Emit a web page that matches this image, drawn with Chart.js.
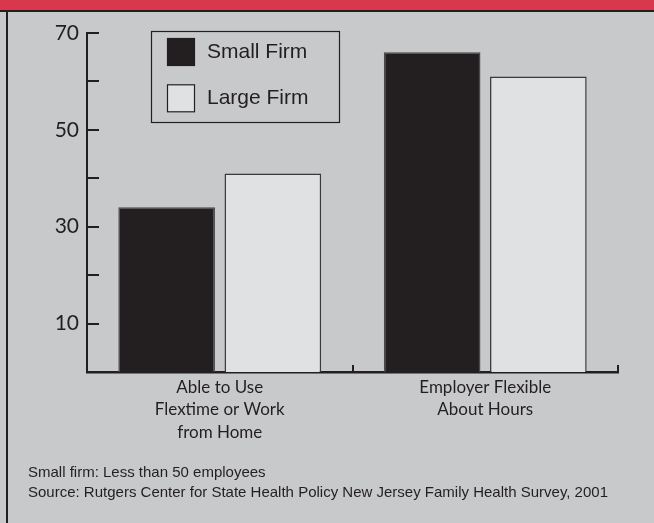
<!DOCTYPE html>
<html>
<head>
<meta charset="utf-8">
<title>Flexible hours by firm size</title>
<script src="https://cdn.jsdelivr.net/npm/chart.js@4.4.1/dist/chart.umd.min.js"></script>
<style>
  html, body { margin: 0; padding: 0; }
  body { width: 654px; height: 523px; background: #c8c9cb; position: relative; overflow: hidden; }
  .topband { position: absolute; left: 0; top: 0; width: 654px; height: 10px; background: #d9384c; border-bottom: 2px solid #231f20; }
  .leftrule { position: absolute; left: 6px; top: 10px; width: 2px; height: 513px; background: #231f20; }
  #chart { position: absolute; left: 0; top: 0; }
  .note { position: absolute; left: 28px; font: 15px "Liberation Sans", Arial, sans-serif; line-height: 18px; color: #231f20; white-space: nowrap; }
</style>
</head>
<body>
<div class="topband"></div>
<div class="leftrule"></div>
<canvas id="chart" width="654" height="523"></canvas>
<div class="note" style="top:463px">Small firm: Less than 50 employees</div>
<div class="note" style="top:483px">Source: Rutgers Center for State Health Policy New Jersey Family Health Survey, 2001</div>

<script>
// Percent of workers, by firm size
const categories = [
  ['Able to Use', 'Flextime or Work', 'from Home'],
  ['Employer Flexible', 'About Hours'],
];
const smallFirm = [34, 66];
const largeFirm = [41, 61];
const labelledTicks = [10, 30, 50, 70];

const INK = '#231f20';

// tick marks drawn inward from the axes
const axisMarks = {
  id: 'axisMarks',
  afterDraw(chart) {
    const { ctx, scales: { x, y } } = chart;
    ctx.save();
    ctx.strokeStyle = INK;
    ctx.lineWidth = 2;
    y.ticks.forEach((t) => {
      if (t.value === 0) return;
      const py = Math.round(y.getPixelForValue(t.value));
      ctx.beginPath();
      ctx.moveTo(y.right, py);
      ctx.lineTo(y.right + 12, py);
      ctx.stroke();
    });
    for (let i = 0; i < categories.length; i++) {
      const px = Math.round(x.getPixelForValue(i + 0.5));
      ctx.beginPath();
      ctx.moveTo(px, x.top);
      ctx.lineTo(px, x.top - 7);
      ctx.stroke();
    }
    ctx.restore();
  },
};

// boxed legend in the upper left of the plot
const boxLegend = {
  id: 'boxLegend',
  afterDraw(chart) {
    const ctx = chart.ctx;
    ctx.save();
    ctx.strokeStyle = INK;
    ctx.lineWidth = 1.2;
    ctx.strokeRect(151.5, 31.5, 188, 91);
    chart.data.datasets.forEach((ds, i) => {
      const top = 38 + i * 46.3;
      ctx.fillStyle = ds.backgroundColor;
      ctx.fillRect(167, top, 28, 28);
      ctx.strokeRect(167.5, top + 0.5, 27, 27);
      ctx.fillStyle = INK;
      ctx.font = '21px "Liberation Sans", Arial, sans-serif';
      ctx.textBaseline = 'middle';
      ctx.fillText(ds.label, 207, top + 14);
    });
    ctx.restore();
  },
};

new Chart(document.getElementById('chart'), {
  type: 'bar',
  data: {
    labels: categories,
    datasets: [
      {
        label: 'Small Firm',
        data: smallFirm,
        backgroundColor: '#231f20',
        borderColor: '#4a4a4c',
        borderWidth: 1.5,
      },
      {
        label: 'Large Firm',
        data: largeFirm,
        backgroundColor: '#e0e1e3',
        borderColor: '#3a3a3c',
        borderWidth: 1.5,
      },
    ],
  },
  options: {
    responsive: false,
    animation: false,
    devicePixelRatio: 1,
    categoryPercentage: 0.8,
    barPercentage: 0.91,
    layout: { padding: { top: 33, right: 36, bottom: 0, left: 0 } },
    plugins: {
      legend: { display: false },
      tooltip: { enabled: false },
    },
    scales: {
      x: {
        afterFit: (scale) => { scale.height = 151; },
        grid: { display: false, drawTicks: false },
        border: { display: true, color: INK, width: 2.5 },
        ticks: {
          color: INK,
          padding: 4,
          maxRotation: 0,
          autoSkip: false,
          font: { family: 'Lato', size: 17, lineHeight: 1.32 },
        },
      },
      y: {
        min: 0,
        max: 70,
        afterFit: (scale) => { scale.width = 87; },
        grid: { display: false, drawTicks: false },
        border: { display: true, color: INK, width: 2 },
        ticks: {
          stepSize: 10,
          padding: 8,
          color: INK,
          font: { family: 'Lato', size: 21 },
          callback: (v) => (labelledTicks.includes(v) ? String(v) : ''),
        },
      },
    },
  },
  plugins: [axisMarks, boxLegend],
});
</script>
</body>
</html>
